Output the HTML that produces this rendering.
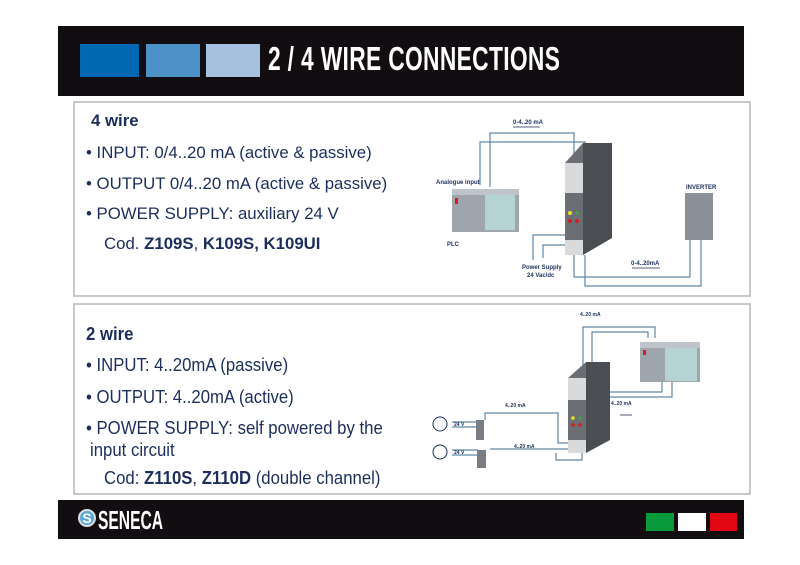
<!DOCTYPE html>
<html><head><meta charset="utf-8"><style>
body{margin:0;width:800px;height:565px;background:#fff;position:relative;overflow:hidden;font-family:"Liberation Sans",sans-serif;color:#1b2e5c}
.abs{position:absolute}
.hdr{left:58px;top:26px;width:686px;height:70px;background:#110d10}
.sq{top:44px;height:33px}
.title{left:268px;top:40px;font-size:33px;font-weight:bold;color:#fff;transform:scaleX(0.69);transform-origin:left top;letter-spacing:0.5px;white-space:nowrap}
.box{left:73px;width:678px;border:2px solid #c8c8c8;background:#fff;box-sizing:border-box}
.t{font-size:16.8px;white-space:nowrap}
.c{font-size:18px;transform:scaleX(0.93);transform-origin:left top;white-space:nowrap}
.ftr{left:58px;top:500px;width:686px;height:39px;background:#110d10}
</style></head><body>
<div class="abs hdr"></div>
<div class="abs sq" style="left:80px;width:59px;background:#0068b3"></div>
<div class="abs sq" style="left:146px;width:54px;background:#4d91c9"></div>
<div class="abs sq" style="left:206px;width:54px;background:#a6c0e0"></div>
<div class="abs title">2 / 4 WIRE CONNECTIONS</div>

<div class="abs box" style="top:101px;height:196px"></div>
<div class="abs box" style="top:303px;height:192px"></div>

<div class="abs t" style="left:91px;top:111px;font-weight:bold">4 wire</div>
<div class="abs t" style="left:86px;top:143px">• INPUT: 0/4..20 mA (active &amp; passive)</div>
<div class="abs t" style="left:86px;top:174px">• OUTPUT 0/4..20 mA (active &amp; passive)</div>
<div class="abs t" style="left:86px;top:204px">• POWER SUPPLY: auxiliary 24 V</div>
<div class="abs t" style="left:104px;top:234px">Cod. <b>Z109S</b>, <b>K109S, K109UI</b></div>

<div class="abs c" style="left:86px;top:324px;font-weight:bold">2 wire</div>
<div class="abs c" style="left:86px;top:355px">• INPUT: 4..20mA (passive)</div>
<div class="abs c" style="left:86px;top:387px">• OUTPUT: 4..20mA (active)</div>
<div class="abs c" style="left:86px;top:418px">• POWER SUPPLY: self powered by the</div>
<div class="abs c" style="left:90px;top:440px">input circuit</div>
<div class="abs c" style="left:104px;top:468px">Cod: <b>Z110S</b>, <b>Z110D</b> (double channel)</div>

<svg class="abs" style="left:0;top:0" width="800" height="565" font-family="Liberation Sans" font-size="6" fill="#1b2e5c">
<g fill="none" stroke="#5f86a8" stroke-width="1.2">
<polyline points="480,185 480,142 585,142 585,152"/>
<polyline points="490,187 490,133 574,133 574,163"/>
<polyline points="565,235 533,235 533,260"/>
<polyline points="565,245 543,245 543,258"/>
<polyline points="574,255 574,277 690,277 690,240"/>
<polyline points="585,255 585,286 701,286 701,240"/>
<polyline points="583,372 583,327 655,327 655,338"/>
<polyline points="592,370 592,332 648,332 648,338"/>
<polyline points="580,392 662,392 662,382"/>
<polyline points="580,397 672,397 672,382"/>
<polyline points="485,420 485,413 558,413 558,443 570,443"/>
<polyline points="490,449 580,449"/>
<polyline points="556,453 556,460 582,460 582,452"/>
<line x1="452" y1="422" x2="476" y2="422"/><line x1="452" y1="427" x2="476" y2="427"/>
<line x1="452" y1="450" x2="478" y2="450"/><line x1="452" y1="455" x2="478" y2="455"/>
</g>
<g stroke="#1b2e5c" stroke-width="0.8"><line x1="513" y1="127" x2="540" y2="127"/><line x1="632" y1="268" x2="660" y2="268"/><line x1="620" y1="415" x2="632" y2="415"/></g>
<polygon points="583,143 612,143 612,238 583,255" fill="#4a4d52"/>
<polygon points="565,163 583,143 583,255 565,255" fill="#6b6e73"/>
<rect x="565" y="163" width="18" height="30" fill="#d8dadc"/>
<rect x="565" y="240" width="18" height="15" fill="#d8dadc"/>
<circle cx="570" cy="213" r="2" fill="#e8e020"/><circle cx="577" cy="213" r="1.5" fill="#30b040"/>
<circle cx="570" cy="221" r="2" fill="#d02020"/><circle cx="577" cy="221" r="2" fill="#d02020"/>
<rect x="452" y="189" width="67" height="43" fill="#9ea5ad"/><rect x="452" y="189" width="67" height="6" fill="#bfc4ca"/>
<rect x="485" y="195" width="30" height="35" fill="#b5d3d3"/><rect x="455" y="198" width="3" height="6" fill="#d02020"/>
<rect x="685" y="193" width="28" height="47" fill="#8a9098"/>
<polygon points="586,362 610,362 610,440 586,453" fill="#4a4d52"/>
<polygon points="568,378 586,362 586,453 568,453" fill="#6b6e73"/>
<rect x="568" y="378" width="18" height="22" fill="#d8dadc"/>
<rect x="568" y="440" width="18" height="13" fill="#d8dadc"/>
<circle cx="573" cy="418" r="1.8" fill="#e8e020"/><circle cx="580" cy="418" r="1.5" fill="#30b040"/>
<circle cx="573" cy="425" r="1.8" fill="#d02020"/><circle cx="580" cy="425" r="1.8" fill="#d02020"/>
<rect x="640" y="342" width="60" height="40" fill="#9ea5ad"/><rect x="640" y="342" width="60" height="6" fill="#bfc4ca"/>
<rect x="665" y="348" width="32" height="33" fill="#b5d3d3"/><rect x="643" y="350" width="3" height="5" fill="#d02020"/>
<rect x="476" y="420" width="8" height="20" fill="#7a7d82"/><rect x="477" y="450" width="9" height="18" fill="#7a7d82"/>
<circle cx="440" cy="424" r="7" fill="#fff" stroke="#1b2e5c"/><circle cx="440" cy="452" r="7" fill="#fff" stroke="#1b2e5c"/>
<g font-weight="bold">
<text x="513" y="124">0-4..20 mA</text><text x="631" y="265">0-4..20mA</text>
<text x="436" y="184">Analogue input</text><text x="447" y="246">PLC</text><text x="686" y="189">INVERTER</text>
<text x="522" y="269">Power Supply</text><text x="527" y="277">24 Vac/dc</text>
<text x="580" y="316" font-size="5">4..20 mA</text><text x="611" y="405" font-size="5">4..20 mA</text>
<text x="505" y="407" font-size="5">4..20 mA</text><text x="514" y="448" font-size="5">4..20 mA</text>
<text x="454" y="426" font-size="5">24 V</text><text x="454" y="454" font-size="5">24 V</text>
</g>
</svg>

<div class="abs ftr"></div>
<div class="abs" style="left:78px;top:509px;width:18px;height:18px;border-radius:50%;background:#5aa9d6;border:2px solid #ddd;box-sizing:border-box;color:#fff;font-weight:bold;font-size:14px;line-height:14px;text-align:center">S</div>
<div class="abs" style="left:98px;top:505px;font-size:26px;font-weight:bold;color:#fff;transform:scaleX(0.6);transform-origin:left top">SENECA</div>
<div class="abs" style="left:646px;top:513px;width:28px;height:18px;background:#0a9a3c"></div>
<div class="abs" style="left:678px;top:513px;width:28px;height:18px;background:#fff"></div>
<div class="abs" style="left:710px;top:513px;width:27px;height:18px;background:#e30613"></div>
</body></html>
